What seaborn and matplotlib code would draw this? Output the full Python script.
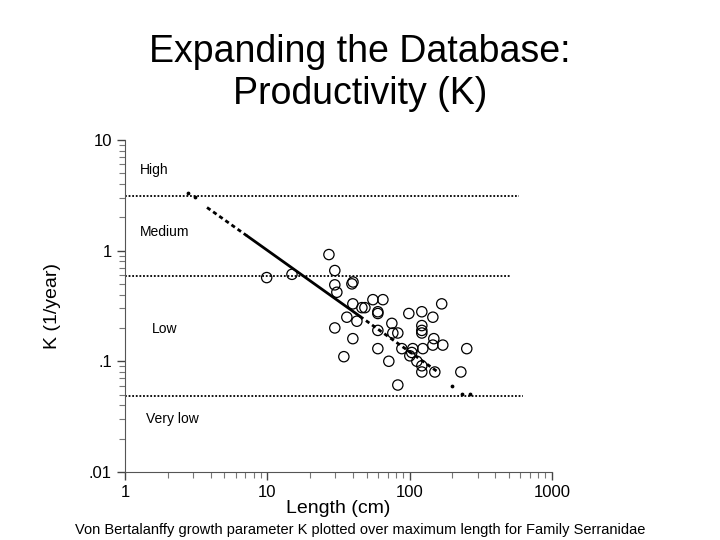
import numpy as np
import pandas as pd
import seaborn as sns
import matplotlib.pyplot as plt
from matplotlib.ticker import LogLocator, FuncFormatter, NullFormatter

# Species data: maximum length (cm) and K (1/year)
length_cm = [9.9, 14.9, 27.1, 29.8, 29.8, 39.3, 40.0, 30.8, 39.9, 46.2,
             48.5, 55.2, 64.9, 59.8, 59.8, 36.2, 42.6, 29.8, 39.9, 59.8,
             75.0, 76.2, 82.6, 59.8, 34.5, 71.4, 82.6, 98.7, 121.8, 168.0,
             145.6, 121.8, 121.8, 121.8, 147.9, 145.6, 171.0, 88.2, 105.2, 103.5,
             100.3, 123.8, 112.4, 121.8, 121.8, 150.3, 229.0, 252.0]
k_values = [0.57, 0.61, 0.92, 0.66, 0.49, 0.50, 0.52, 0.42, 0.33, 0.305,
            0.305, 0.36, 0.36, 0.28, 0.27, 0.25, 0.23, 0.20, 0.16, 0.19,
            0.22, 0.18, 0.18, 0.13, 0.11, 0.10, 0.061, 0.27, 0.28, 0.33,
            0.25, 0.21, 0.19, 0.18, 0.16, 0.14, 0.14, 0.13, 0.13, 0.12,
            0.112, 0.13, 0.10, 0.091, 0.080, 0.080, 0.080, 0.13]

# Regression line through the cloud (end points of each segment)
fit_len_dash1 = [3.77, 7.19]
fit_k_dash1 = [2.45, 1.36]
fit_len_solid = [7.19, 44.7]
fit_k_solid = [1.36, 0.255]
fit_len_dash2 = [44.7, 158.0]
fit_k_dash2 = [0.255, 0.080]

# stray small dots
dot_len = [2.77, 3.10, 198.0, 233.0, 265.0]
dot_k = [3.28, 3.02, 0.060, 0.051, 0.051]

# productivity class boundaries
bound_k = [3.1, 0.585, 0.049]
bound_end = [585, 514, 624]
class_names = ["High", "Medium", "Low", "Very low"]
class_pos = [(1.27, 5.3), (1.27, 1.46), (1.55, 0.197), (1.40, 0.030)]

sns.set_style("ticks")
plt.rcParams['font.family'] = ['Liberation Sans', 'DejaVu Sans']
plt.rcParams['text.color'] = 'black'
plt.rcParams['axes.labelcolor'] = 'black'
plt.rcParams['xtick.labelcolor'] = 'black'
plt.rcParams['ytick.labelcolor'] = 'black'

fig = plt.figure(figsize=(7.2, 5.4), dpi=100)
ax = fig.add_axes([0.1736, 0.126, 0.593, 0.615])

df = pd.DataFrame({"Length": length_cm, "K": k_values})

for k, xe in zip(bound_k, bound_end):
    ax.plot([1, xe], [k, k], color="black", linestyle=(0, (1, 1)), linewidth=1.3)

sns.lineplot(x=fit_len_dash1, y=fit_k_dash1, ax=ax, color="black",
             linestyle=(0, (1.5, 1.2)), linewidth=2)
sns.lineplot(x=fit_len_solid, y=fit_k_solid, ax=ax, color="black", linewidth=2)
sns.lineplot(x=fit_len_dash2, y=fit_k_dash2, ax=ax, color="black",
             linestyle=(0, (1.5, 1.2)), linewidth=2)
ax.scatter(dot_len, dot_k, s=3, color="black", zorder=3)

sns.scatterplot(data=df, x="Length", y="K", ax=ax, marker="o",
                facecolor="none", edgecolor="black", linewidth=0.9, s=55, zorder=4)

for name, (xp, yp) in zip(class_names, class_pos):
    ax.text(xp, yp, name, fontsize=10, va="center", ha="left")

ax.set_xscale("log")
ax.set_yscale("log")
ax.set_xlim(1, 1000)
ax.set_ylim(0.01, 10)

fmt = FuncFormatter(lambda v, p: {10: "10", 1: "1", 0.1: ".1", 0.01: ".01",
                                  100: "100", 1000: "1000"}.get(round(v, 4), ""))
ax.xaxis.set_major_locator(LogLocator(base=10, numticks=10))
ax.yaxis.set_major_locator(LogLocator(base=10, numticks=10))
ax.xaxis.set_major_formatter(fmt)
ax.yaxis.set_major_formatter(fmt)
ax.xaxis.set_minor_formatter(NullFormatter())
ax.yaxis.set_minor_formatter(NullFormatter())
ax.tick_params(which="major", length=6, width=1, labelsize=12, color="#444444")
ax.tick_params(which="minor", length=4, width=0.8, color="#777777")

sns.despine(ax=ax)
for sp in ["left", "bottom"]:
    ax.spines[sp].set_color("#555555")

ax.set_xlabel("Length (cm)", fontsize=14, labelpad=0)
ax.set_ylabel("K (1/year)", fontsize=14, labelpad=20)

fig.text(0.5, 0.865, "Expanding the Database:\nProductivity (K)", ha="center",
         va="center", fontsize=27, linespacing=1.2)
fig.text(0.5, 0.018, "Von Bertalanffy growth parameter K plotted over maximum length for Family Serranidae",
         ha="center", va="center", fontsize=10.5)

fig.savefig("out.png", dpi=100)
